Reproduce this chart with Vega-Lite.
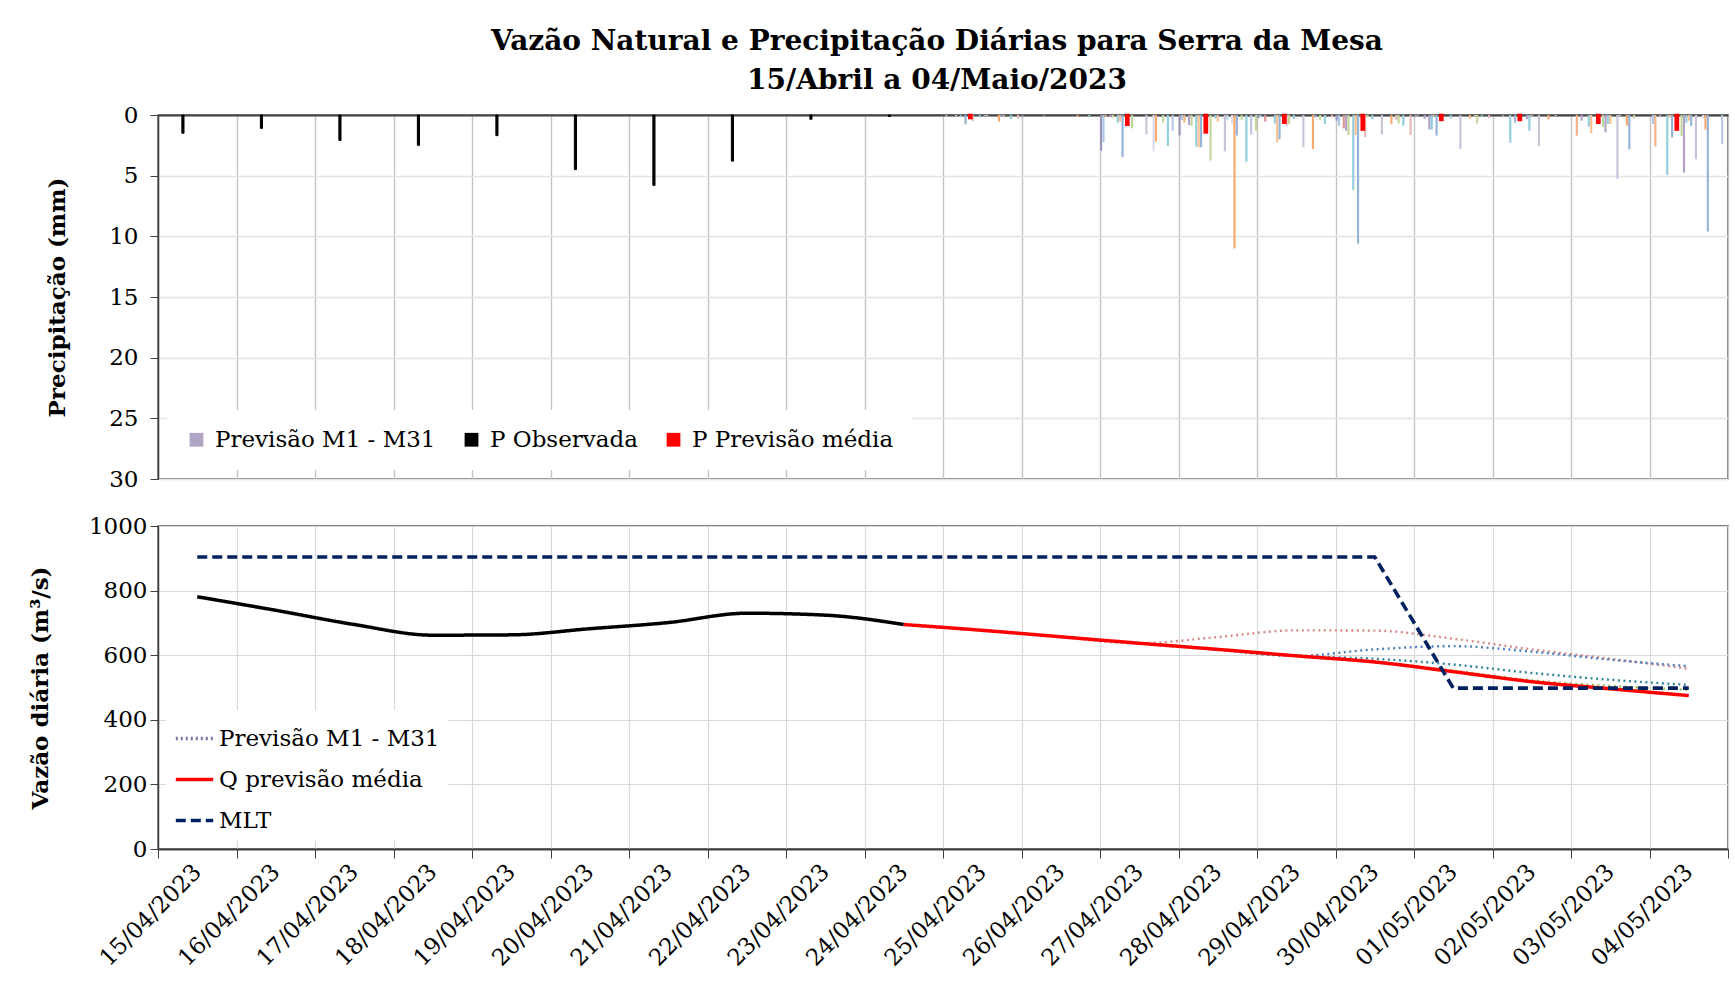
{
  "$schema": "https://vega.github.io/schema/vega-lite/v6.json",
  "background": "white",
  "padding": {"left": 28, "top": 28, "right": 2, "bottom": 2},
  "config": {
    "font": "DejaVu Serif",
    "view": {"stroke": "#595959", "strokeWidth": 1.5},
    "axis": {"labelFont": "DejaVu Serif", "labelFontSize": 23, "labelColor": "#000000", "titleFont": "DejaVu Serif", "titleFontSize": 23, "titleFontWeight": "bold", "titleColor": "#000000", "domainColor": "#404040", "tickColor": "#404040", "gridColor": "#D9D9D9", "gridWidth": 1.2},
    "legend": {"labelFont": "DejaVu Serif", "labelFontSize": 23, "labelColor": "#000000", "labelLimit": 400},
    "concat": {"spacing": 22}
  },
  "title": {"text": ["Vazão Natural e Precipitação Diárias para Serra da Mesa", "15/Abril a 04/Maio/2023"], "font": "DejaVu Serif", "fontSize": 28, "fontWeight": "bold", "lineHeight": 39, "anchor": "middle", "offset": 8, "dx": 58, "color": "#000000"},
  "resolve": {"scale": {"color": "independent", "x": "independent", "y": "independent", "fill": "independent", "stroke": "independent", "strokeDash": "independent"}, "legend": {"color": "independent", "strokeDash": "independent"}},
  "datasets": {
    "membros": [
      {"d": "25/04/2023", "m": "M2", "p": 0.1}, {"d": "25/04/2023", "m": "M6", "p": 0.1}, {"d": "25/04/2023", "m": "M8", "p": 0.1}, {"d": "25/04/2023", "m": "M10", "p": 0.77}, {"d": "25/04/2023", "m": "M11", "p": 0.5}, {"d": "25/04/2023", "m": "M14", "p": 0.2}, {"d": "25/04/2023", "m": "M16", "p": 0.1}, {"d": "25/04/2023", "m": "M17", "p": 0.1}, {"d": "25/04/2023", "m": "M22", "p": 0.55}, {"d": "25/04/2023", "m": "M23", "p": 0.15}, {"d": "25/04/2023", "m": "M24", "p": 0.1}, {"d": "25/04/2023", "m": "M27", "p": 0.33}, {"d": "25/04/2023", "m": "M30", "p": 0.3},
      {"d": "26/04/2023", "m": "M1", "p": 0.1}, {"d": "26/04/2023", "m": "M10", "p": 0.05}, {"d": "26/04/2023", "m": "M22", "p": 0.12}, {"d": "26/04/2023", "m": "M27", "p": 0.1},
      {"d": "27/04/2023", "m": "M1", "p": 2.94}, {"d": "27/04/2023", "m": "M2", "p": 2.25}, {"d": "27/04/2023", "m": "M3", "p": 0.1}, {"d": "27/04/2023", "m": "M5", "p": 0.2}, {"d": "27/04/2023", "m": "M6", "p": 0.2}, {"d": "27/04/2023", "m": "M8", "p": 0.63}, {"d": "27/04/2023", "m": "M9", "p": 0.55}, {"d": "27/04/2023", "m": "M10", "p": 3.46}, {"d": "27/04/2023", "m": "M12", "p": 1.1}, {"d": "27/04/2023", "m": "M18", "p": 1.6}, {"d": "27/04/2023", "m": "M21", "p": 3.0}, {"d": "27/04/2023", "m": "M22", "p": 2.2}, {"d": "27/04/2023", "m": "M25", "p": 0.63}, {"d": "27/04/2023", "m": "M27", "p": 2.55}, {"d": "27/04/2023", "m": "M29", "p": 1.3},
      {"d": "28/04/2023", "m": "M1", "p": 1.68}, {"d": "28/04/2023", "m": "M2", "p": 0.4}, {"d": "28/04/2023", "m": "M3", "p": 0.63}, {"d": "28/04/2023", "m": "M5", "p": 0.82}, {"d": "28/04/2023", "m": "M6", "p": 0.88}, {"d": "28/04/2023", "m": "M8", "p": 2.6}, {"d": "28/04/2023", "m": "M9", "p": 2.66}, {"d": "28/04/2023", "m": "M10", "p": 2.66}, {"d": "28/04/2023", "m": "M12", "p": 3.76}, {"d": "28/04/2023", "m": "M14", "p": 0.27}, {"d": "28/04/2023", "m": "M15", "p": 0.55}, {"d": "28/04/2023", "m": "M18", "p": 3.0}, {"d": "28/04/2023", "m": "M19", "p": 0.4}, {"d": "28/04/2023", "m": "M21", "p": 0.7}, {"d": "28/04/2023", "m": "M22", "p": 11.0}, {"d": "28/04/2023", "m": "M23", "p": 1.7}, {"d": "28/04/2023", "m": "M25", "p": 0.4}, {"d": "28/04/2023", "m": "M27", "p": 3.85}, {"d": "28/04/2023", "m": "M29", "p": 1.6}, {"d": "28/04/2023", "m": "M31", "p": 1.3},
      {"d": "29/04/2023", "m": "M1", "p": 0.27}, {"d": "29/04/2023", "m": "M2", "p": 0.2}, {"d": "29/04/2023", "m": "M4", "p": 0.55}, {"d": "29/04/2023", "m": "M8", "p": 0.7}, {"d": "29/04/2023", "m": "M9", "p": 2.25}, {"d": "29/04/2023", "m": "M10", "p": 2.0}, {"d": "29/04/2023", "m": "M11", "p": 0.9}, {"d": "29/04/2023", "m": "M12", "p": 0.75}, {"d": "29/04/2023", "m": "M14", "p": 0.33}, {"d": "29/04/2023", "m": "M18", "p": 2.66}, {"d": "29/04/2023", "m": "M22", "p": 2.8}, {"d": "29/04/2023", "m": "M23", "p": 0.2}, {"d": "29/04/2023", "m": "M25", "p": 0.4}, {"d": "29/04/2023", "m": "M27", "p": 0.75}, {"d": "29/04/2023", "m": "M30", "p": 0.2},
      {"d": "30/04/2023", "m": "M1", "p": 0.47}, {"d": "30/04/2023", "m": "M2", "p": 0.9}, {"d": "30/04/2023", "m": "M4", "p": 1.1}, {"d": "30/04/2023", "m": "M5", "p": 1.3}, {"d": "30/04/2023", "m": "M6", "p": 1.65}, {"d": "30/04/2023", "m": "M8", "p": 6.2}, {"d": "30/04/2023", "m": "M9", "p": 1.65}, {"d": "30/04/2023", "m": "M10", "p": 10.6}, {"d": "30/04/2023", "m": "M11", "p": 1.84}, {"d": "30/04/2023", "m": "M12", "p": 0.2}, {"d": "30/04/2023", "m": "M14", "p": 0.36}, {"d": "30/04/2023", "m": "M18", "p": 1.6}, {"d": "30/04/2023", "m": "M22", "p": 0.75}, {"d": "30/04/2023", "m": "M24", "p": 0.4}, {"d": "30/04/2023", "m": "M25", "p": 0.7}, {"d": "30/04/2023", "m": "M27", "p": 0.88}, {"d": "30/04/2023", "m": "M30", "p": 1.65},
      {"d": "01/05/2023", "m": "M1", "p": 0.1}, {"d": "01/05/2023", "m": "M2", "p": 0.1}, {"d": "01/05/2023", "m": "M5", "p": 0.3}, {"d": "01/05/2023", "m": "M7", "p": 1.2}, {"d": "01/05/2023", "m": "M8", "p": 1.2}, {"d": "01/05/2023", "m": "M9", "p": 0.1}, {"d": "01/05/2023", "m": "M10", "p": 1.7}, {"d": "01/05/2023", "m": "M14", "p": 0.27}, {"d": "01/05/2023", "m": "M18", "p": 2.8}, {"d": "01/05/2023", "m": "M22", "p": 0.27}, {"d": "01/05/2023", "m": "M24", "p": 0.1}, {"d": "01/05/2023", "m": "M25", "p": 0.7}, {"d": "01/05/2023", "m": "M27", "p": 0.1}, {"d": "01/05/2023", "m": "M30", "p": 0.27},
      {"d": "02/05/2023", "m": "M5", "p": 0.1}, {"d": "02/05/2023", "m": "M8", "p": 2.28}, {"d": "02/05/2023", "m": "M10", "p": 0.63}, {"d": "02/05/2023", "m": "M13", "p": 0.33}, {"d": "02/05/2023", "m": "M14", "p": 1.3}, {"d": "02/05/2023", "m": "M15", "p": 0.1}, {"d": "02/05/2023", "m": "M18", "p": 2.55}, {"d": "02/05/2023", "m": "M22", "p": 0.36}, {"d": "02/05/2023", "m": "M25", "p": 0.1},
      {"d": "03/05/2023", "m": "M3", "p": 1.7}, {"d": "03/05/2023", "m": "M5", "p": 0.47}, {"d": "03/05/2023", "m": "M8", "p": 0.96}, {"d": "03/05/2023", "m": "M9", "p": 1.5}, {"d": "03/05/2023", "m": "M12", "p": 1.0}, {"d": "03/05/2023", "m": "M13", "p": 1.43}, {"d": "03/05/2023", "m": "M14", "p": 0.74}, {"d": "03/05/2023", "m": "M15", "p": 0.74}, {"d": "03/05/2023", "m": "M18", "p": 5.27}, {"d": "03/05/2023", "m": "M19", "p": 0.1}, {"d": "03/05/2023", "m": "M22", "p": 0.88}, {"d": "03/05/2023", "m": "M23", "p": 2.83}, {"d": "03/05/2023", "m": "M25", "p": 0.27},
      {"d": "04/05/2023", "m": "M2", "p": 0.74}, {"d": "04/05/2023", "m": "M3", "p": 2.6}, {"d": "04/05/2023", "m": "M5", "p": 0.1}, {"d": "04/05/2023", "m": "M8", "p": 4.95}, {"d": "04/05/2023", "m": "M9", "p": 0.2}, {"d": "04/05/2023", "m": "M10", "p": 1.84}, {"d": "04/05/2023", "m": "M12", "p": 1.73}, {"d": "04/05/2023", "m": "M13", "p": 4.75}, {"d": "04/05/2023", "m": "M14", "p": 0.63}, {"d": "04/05/2023", "m": "M15", "p": 0.47}, {"d": "04/05/2023", "m": "M16", "p": 0.9}, {"d": "04/05/2023", "m": "M18", "p": 3.65}, {"d": "04/05/2023", "m": "M21", "p": 0.3}, {"d": "04/05/2023", "m": "M22", "p": 1.2}, {"d": "04/05/2023", "m": "M23", "p": 9.6}, {"d": "04/05/2023", "m": "M29", "p": 2.4}
    ],
    "obs": [
      {"d": "15/04/2023", "m": "P Observada", "p": 1.5}, {"d": "16/04/2023", "m": "P Observada", "p": 1.1}, {"d": "17/04/2023", "m": "P Observada", "p": 2.1}, {"d": "18/04/2023", "m": "P Observada", "p": 2.5}, {"d": "19/04/2023", "m": "P Observada", "p": 1.7}, {"d": "20/04/2023", "m": "P Observada", "p": 4.5}, {"d": "21/04/2023", "m": "P Observada", "p": 5.8}, {"d": "22/04/2023", "m": "P Observada", "p": 3.8}, {"d": "23/04/2023", "m": "P Observada", "p": 0.35}, {"d": "24/04/2023", "m": "P Observada", "p": 0.12}
    ],
    "med": [
      {"d": "25/04/2023", "m": "P Previsão média", "p": 0.25}, {"d": "27/04/2023", "m": "P Previsão média", "p": 0.8}, {"d": "28/04/2023", "m": "P Previsão média", "p": 1.43}, {"d": "29/04/2023", "m": "P Previsão média", "p": 0.63}, {"d": "30/04/2023", "m": "P Previsão média", "p": 1.2}, {"d": "01/05/2023", "m": "P Previsão média", "p": 0.4}, {"d": "02/05/2023", "m": "P Previsão média", "p": 0.4}, {"d": "03/05/2023", "m": "P Previsão média", "p": 0.63}, {"d": "04/05/2023", "m": "P Previsão média", "p": 1.2}
    ],
    "vazao": [
      {"d": "15/04/2023", "s": "Q observada", "q": 781}, {"d": "16/04/2023", "s": "Q observada", "q": 739}, {"d": "17/04/2023", "s": "Q observada", "q": 695}, {"d": "18/04/2023", "s": "Q observada", "q": 662}, {"d": "19/04/2023", "s": "Q observada", "q": 663}, {"d": "20/04/2023", "s": "Q observada", "q": 682}, {"d": "21/04/2023", "s": "Q observada", "q": 701}, {"d": "22/04/2023", "s": "Q observada", "q": 730}, {"d": "23/04/2023", "s": "Q observada", "q": 724}, {"d": "24/04/2023", "s": "Q observada", "q": 695},
      {"d": "24/04/2023", "s": "Q previsão média", "q": 695}, {"d": "25/04/2023", "s": "Q previsão média", "q": 677}, {"d": "26/04/2023", "s": "Q previsão média", "q": 657}, {"d": "27/04/2023", "s": "Q previsão média", "q": 637}, {"d": "28/04/2023", "s": "Q previsão média", "q": 618}, {"d": "29/04/2023", "s": "Q previsão média", "q": 598}, {"d": "30/04/2023", "s": "Q previsão média", "q": 579}, {"d": "01/05/2023", "s": "Q previsão média", "q": 549}, {"d": "02/05/2023", "s": "Q previsão média", "q": 518}, {"d": "03/05/2023", "s": "Q previsão média", "q": 496}, {"d": "04/05/2023", "s": "Q previsão média", "q": 475}
    ],
    "mlt": [
      {"d": "15/04/2023", "s": "MLT", "q": 904}, {"d": "16/04/2023", "s": "MLT", "q": 904}, {"d": "17/04/2023", "s": "MLT", "q": 904}, {"d": "18/04/2023", "s": "MLT", "q": 904}, {"d": "19/04/2023", "s": "MLT", "q": 904}, {"d": "20/04/2023", "s": "MLT", "q": 904}, {"d": "21/04/2023", "s": "MLT", "q": 904}, {"d": "22/04/2023", "s": "MLT", "q": 904}, {"d": "23/04/2023", "s": "MLT", "q": 904}, {"d": "24/04/2023", "s": "MLT", "q": 904}, {"d": "25/04/2023", "s": "MLT", "q": 904}, {"d": "26/04/2023", "s": "MLT", "q": 904}, {"d": "27/04/2023", "s": "MLT", "q": 904}, {"d": "28/04/2023", "s": "MLT", "q": 904}, {"d": "29/04/2023", "s": "MLT", "q": 904}, {"d": "30/04/2023", "s": "MLT", "q": 904}, {"d": "01/05/2023", "s": "MLT", "q": 498}, {"d": "02/05/2023", "s": "MLT", "q": 498}, {"d": "03/05/2023", "s": "MLT", "q": 498}, {"d": "04/05/2023", "s": "MLT", "q": 498}
    ],
    "membrosQ": [
      {"d": "26/04/2023", "m": "M4", "q": 657}, {"d": "27/04/2023", "m": "M4", "q": 637}, {"d": "28/04/2023", "m": "M4", "q": 656}, {"d": "29/04/2023", "m": "M4", "q": 677}, {"d": "30/04/2023", "m": "M4", "q": 676}, {"d": "01/05/2023", "m": "M4", "q": 651}, {"d": "02/05/2023", "m": "M4", "q": 618}, {"d": "03/05/2023", "m": "M4", "q": 589}, {"d": "04/05/2023", "m": "M4", "q": 558},
      {"d": "28/04/2023", "m": "M10", "q": 618}, {"d": "29/04/2023", "m": "M10", "q": 598}, {"d": "30/04/2023", "m": "M10", "q": 618}, {"d": "01/05/2023", "m": "M10", "q": 628}, {"d": "02/05/2023", "m": "M10", "q": 611}, {"d": "03/05/2023", "m": "M10", "q": 586}, {"d": "04/05/2023", "m": "M10", "q": 566},
      {"d": "28/04/2023", "m": "M8", "q": 618}, {"d": "29/04/2023", "m": "M8", "q": 598}, {"d": "30/04/2023", "m": "M8", "q": 589}, {"d": "01/05/2023", "m": "M8", "q": 571}, {"d": "02/05/2023", "m": "M8", "q": 545}, {"d": "03/05/2023", "m": "M8", "q": 524}, {"d": "04/05/2023", "m": "M8", "q": 508},
      {"d": "29/04/2023", "m": "M6", "q": 598}, {"d": "30/04/2023", "m": "M6", "q": 580}, {"d": "01/05/2023", "m": "M6", "q": 552}, {"d": "02/05/2023", "m": "M6", "q": 522}, {"d": "03/05/2023", "m": "M6", "q": 505}, {"d": "04/05/2023", "m": "M6", "q": 493}
    ]
  },
  "vconcat": [
    {
      "width": 1570,
      "height": 364,
      "layer": [
        {
          "data": {"name": "membros"},
          "mark": {"type": "bar"},
          "encoding": {
            "x": {"field": "d", "type": "nominal", "scale": {"domain": ["15/04/2023","16/04/2023","17/04/2023","18/04/2023","19/04/2023","20/04/2023","21/04/2023","22/04/2023","23/04/2023","24/04/2023","25/04/2023","26/04/2023","27/04/2023","28/04/2023","29/04/2023","30/04/2023","01/05/2023","02/05/2023","03/05/2023","04/05/2023"], "paddingInner": 0, "paddingOuter": 0}, "axis": {"orient": "top", "labels": false, "ticks": false, "title": null, "tickBand": "extent", "grid": true, "gridColor": "#C4C4C4", "gridWidth": 1.4, "domainWidth": 2}},
            "xOffset": {"field": "m", "type": "nominal", "scale": {"domain": ["M1","M2","M3","M4","M5","M6","M7","M8","M9","M10","P Observada","P Previsão média","M11","M12","M13","M14","M15","M16","M17","M18","M19","M20","M21","M22","M23","M24","M25","M26","M27","M28","M29","M30","M31"], "paddingInner": 0.1}},
            "y": {"field": "p", "type": "quantitative", "scale": {"domain": [0, 30], "reverse": true, "nice": false}, "axis": {"values": [0, 5, 10, 15, 20, 25, 30], "title": "Precipitação (mm)", "tickSize": 8, "labelPadding": 12, "titlePadding": 39, "gridColor": "#E3E3E3", "gridWidth": 1.4, "domainWidth": 1.5}},
            "fill": {"field": "m", "type": "nominal", "scale": {"domain": ["M1","M2","M3","M4","M5","M6","M7","M8","M9","M10","M11","M12","M13","M14","M15","M16","M17","M18","M19","M20","M21","M22","M23","M24","M25","M26","M27","M28","M29","M30","M31"], "range": ["#A093B8","#A9C8E8","#F4B183","#D99694","#B3A2C7","#C3D69B","#A6A0C8","#93CDDD","#FAC090","#95B3D7","#E6B9B8","#C3D69B","#B3A2C7","#93CDDD","#FAC090","#95B3D7","#E6B9B8","#CCC1DA","#B7DEE8","#FCD5B5","#DDD9EA","#F9A86E","#95B3D7","#E6B9B8","#C3D69B","#B3A2C7","#93CDDD","#FAC090","#B9C5E3","#E6B9B8","#C3D69B"]}, "legend": null}
          }
        },
        {
          "data": {"name": "obs"},
          "mark": {"type": "bar", "strokeWidth": 1},
          "encoding": {
            "x": {"field": "d", "type": "nominal"},
            "xOffset": {"field": "m", "type": "nominal"},
            "y": {"field": "p", "type": "quantitative"},
            "color": {"field": "m", "type": "nominal", "scale": {"domain": ["Previsão M1 - M31", "P Observada", "P Previsão média"], "range": ["#B1A5C5", "#000000", "#FF0000"]}, "legend": {"title": null, "orient": "bottom-left", "direction": "horizontal", "symbolType": "square", "symbolSize": 190, "symbolStrokeWidth": 0, "columnPadding": 24, "labelOffset": 7, "fillColor": "white", "padding": 18, "offset": 9}},
            "stroke": {"field": "m", "type": "nominal", "scale": {"domain": ["Previsão M1 - M31", "P Observada", "P Previsão média"], "range": ["#B1A5C5", "#000000", "#FF0000"]}, "legend": null}
          }
        },
        {
          "data": {"name": "med"},
          "mark": {"type": "bar", "strokeWidth": 2.6},
          "encoding": {
            "x": {"field": "d", "type": "nominal"},
            "xOffset": {"field": "m", "type": "nominal"},
            "y": {"field": "p", "type": "quantitative"},
            "color": {"field": "m", "type": "nominal"},
            "stroke": {"field": "m", "type": "nominal", "legend": null}
          }
        }
      ]
    },
    {
      "width": 1570,
      "height": 323,
      "layer": [
        {
          "data": {"name": "membrosQ"},
          "mark": {"type": "line", "strokeWidth": 2.4, "strokeDash": [2, 3.5], "interpolate": "monotone"},
          "encoding": {
            "x": {"field": "d", "type": "nominal", "scale": {"domain": ["15/04/2023","16/04/2023","17/04/2023","18/04/2023","19/04/2023","20/04/2023","21/04/2023","22/04/2023","23/04/2023","24/04/2023","25/04/2023","26/04/2023","27/04/2023","28/04/2023","29/04/2023","30/04/2023","01/05/2023","02/05/2023","03/05/2023","04/05/2023"], "paddingInner": 0, "paddingOuter": 0}, "axis": {"title": null, "labelAngle": -45, "labelAlign": "right", "labelBaseline": "middle", "labelFontSize": 23, "tickBand": "extent", "tickSize": 9, "labelPadding": 10, "grid": true, "domainWidth": 2}},
            "y": {"field": "q", "type": "quantitative", "scale": {"domain": [0, 1000], "nice": false}, "axis": {"values": [0, 200, 400, 600, 800, 1000], "format": "d", "title": "Vazão diária (m³/s)", "tickSize": 8, "labelPadding": 3, "titlePadding": 36, "domainWidth": 1.5}},
            "stroke": {"field": "m", "type": "nominal", "scale": {"domain": ["M4", "M10", "M8", "M6"], "range": ["#D58A88", "#4F81BD", "#31859C", "#9BBB59"]}, "legend": null}
          }
        },
        {
          "data": {"name": "vazao"},
          "mark": {"type": "line", "strokeWidth": 3.5, "interpolate": "monotone"},
          "encoding": {
            "x": {"field": "d", "type": "nominal"},
            "y": {"field": "q", "type": "quantitative"},
            "color": {"field": "s", "type": "nominal", "scale": {"domain": ["Previsão M1 - M31", "Q previsão média", "MLT", "Q observada"], "range": ["#7F6FA3", "#FF0000", "#002060", "#000000"]}, "legend": {"title": null, "values": ["Previsão M1 - M31", "Q previsão média", "MLT"], "orient": "bottom-left", "symbolType": "stroke", "symbolSize": 1400, "symbolStrokeWidth": 3.5, "rowPadding": 8, "labelOffset": 4, "fillColor": "white", "padding": 8, "offset": 8}},
            "strokeDash": {"field": "s", "type": "nominal", "scale": {"domain": ["Previsão M1 - M31", "Q previsão média", "MLT", "Q observada"], "range": [[2, 3], [1, 0], [10, 5], [1, 0]]}, "legend": {"title": null, "values": ["Previsão M1 - M31", "Q previsão média", "MLT"], "orient": "bottom-left", "symbolType": "stroke", "symbolSize": 1400, "symbolStrokeWidth": 3.5, "rowPadding": 8, "labelOffset": 4, "fillColor": "white", "padding": 8, "offset": 8}}
          }
        },
        {
          "data": {"name": "mlt"},
          "mark": {"type": "line", "strokeWidth": 3.6},
          "encoding": {
            "x": {"field": "d", "type": "nominal"},
            "y": {"field": "q", "type": "quantitative"},
            "color": {"field": "s", "type": "nominal"},
            "strokeDash": {"field": "s", "type": "nominal"}
          }
        }
      ]
    }
  ]
}
